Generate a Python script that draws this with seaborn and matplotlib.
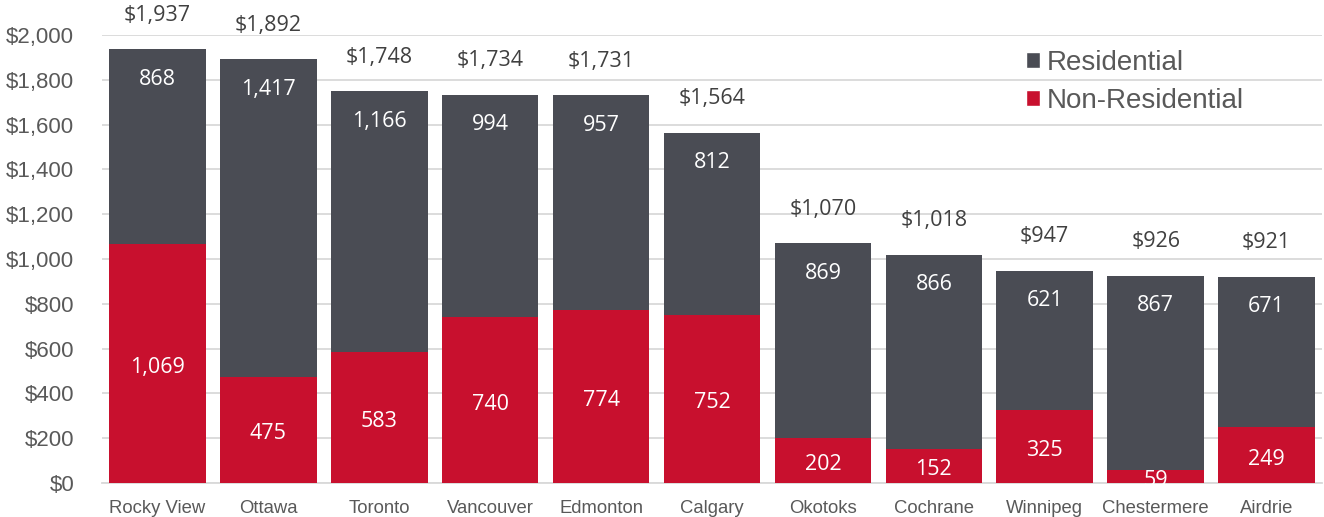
import matplotlib
matplotlib.use("Agg")
import matplotlib.pyplot as plt
import seaborn as sns
import pandas as pd
from matplotlib.patches import Patch

cities = ["Rocky View", "Ottawa", "Toronto", "Vancouver", "Edmonton", "Calgary",
          "Okotoks", "Cochrane", "Winnipeg", "Chestermere", "Airdrie"]
residential = [868, 1417, 1166, 994, 957, 812, 869, 866, 621, 867, 671]
non_residential = [1069, 475, 583, 740, 774, 752, 202, 152, 325, 59, 249]
totals = [1937, 1892, 1748, 1734, 1731, 1564, 1070, 1018, 947, 926, 921]
yticks = list(range(0, 2001, 200))

DARK = "#4A4C54"
RED = "#C8102E"
TXT = "#595959"
GRID = "#D9D9D9"

df = pd.DataFrame({"city": cities, "res": residential, "nonres": non_residential, "total": totals})

sns.set_theme(style="white")
plt.rcParams["font.family"] = ["Liberation Sans", "DejaVu Sans"]

fig = plt.figure(figsize=(13.24, 5.17), dpi=100)
ax = fig.add_axes([102 / 1324, 34 / 517, 1 - 102 / 1324 - 2 / 1324, (483 - 35) / 517])

sns.barplot(data=df, x="city", y="total", color=DARK, width=0.87, saturation=1,
            ax=ax, zorder=2, linewidth=0)
sns.barplot(data=df, x="city", y="nonres", color=RED, width=0.87, saturation=1,
            ax=ax, zorder=3, linewidth=0)

ax.set_ylim(0, 2000)
ax.set_xlim(-0.5, len(cities) - 0.5)
ax.set_yticks(yticks)
ax.set_yticklabels([f"${v:,}" for v in yticks], fontsize=16, color=TXT)
ax.set_xticklabels(cities, fontsize=13.3, color=TXT)
ax.set_xlabel("")
ax.set_ylabel("")
ax.tick_params(axis="both", length=0)
ax.tick_params(axis="x", pad=12)
ax.tick_params(axis="y", pad=20)
ax.yaxis.grid(True, color=GRID, linewidth=1.3, zorder=0)
ax.set_axisbelow(True)
for s in ["left", "right", "top"]:
    ax.spines[s].set_visible(False)
ax.spines["bottom"].set_color(GRID)
ax.spines["bottom"].set_linewidth(1.3)

lab_font = ["Open Sans", "DejaVu Sans"]
for i, (r, n, t) in enumerate(zip(residential, non_residential, totals)):
    ax.annotate(f"{r:,}", (i, t), xytext=(0, -30), textcoords="offset pixels",
                ha="center", va="center", color="white", fontsize=15.5, family=lab_font, zorder=5)
    ax.annotate(f"{n:,}", (i, n / 2), xytext=(0, -4), textcoords="offset pixels",
                ha="center", va="center", color="white", fontsize=15.5, family=lab_font, zorder=5,
                annotation_clip=False)
    ax.annotate(f"${t:,}", (i, t), xytext=(0, 34), textcoords="offset pixels",
                ha="center", va="center", color="#404040", fontsize=15.5, family=lab_font, zorder=5,
                annotation_clip=False)

handles = [Patch(facecolor=DARK, label="Residential"), Patch(facecolor=RED, label="Non-Residential")]
leg = fig.legend(handles=handles, loc="upper left", bbox_to_anchor=(1026 / 1324, 1 - 50 / 517),
                 frameon=False, fontsize=20, handlelength=0.5, handleheight=0.5,
                 handletextpad=0.25, labelspacing=0.42, borderaxespad=0, borderpad=0)
for t in leg.get_texts():
    t.set_color(TXT)

fig.savefig("out.png", dpi=100)
